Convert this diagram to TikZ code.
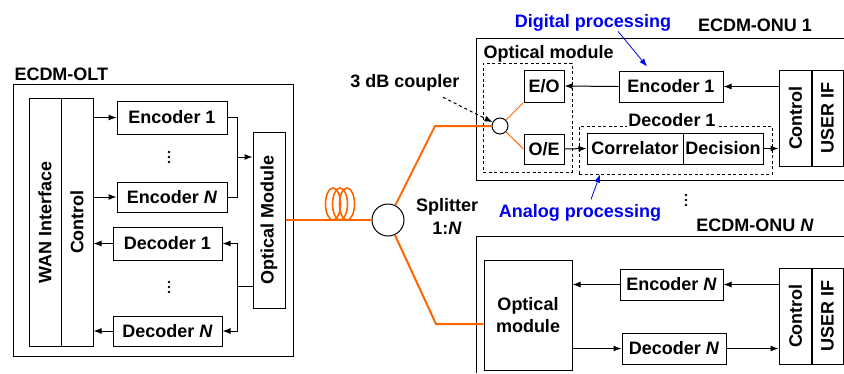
\documentclass[tikz,border=0pt]{standalone}
\usepackage{fontspec}
\setmainfont{Liberation Sans}
\usepackage{tikz}
\usetikzlibrary{arrows.meta, positioning, calc}
\definecolor{corLaranja}{RGB}{255, 102, 0}
\definecolor{corAzul}{RGB}{0, 0, 240}

\begin{document}
\begin{tikzpicture}[
    x=1pt, y=-1pt, line width=1pt,
    every node/.style={font=\bfseries\fontsize{18}{22}\selectfont},
    mod/.style={draw, inner sep=0pt, align=center},
    vmod/.style={mod, rotate=90},
    rotulo/.style={inner sep=0pt},
    tracej/.style={draw, dash pattern=on 3pt off 2.5pt, inner sep=0pt},
    seta/.style={-{Latex[length=8pt,width=6pt]}},
    fibra/.style={draw=corLaranja, line width=2pt}
]
\useasboundingbox (0,0) rectangle (844,373);

% OLT
\node[mod, minimum width=280pt, minimum height=272pt] (olt) at (153,220) {};
\node[rotulo, anchor=base west] (oltlbl) at (14,80) {ECDM-OLT};
\node[vmod, minimum width=248pt, minimum height=32pt] (wan) at (45,222) {WAN Interface};
\node[vmod, minimum width=248pt, minimum height=32pt] (ctrl) at (77,222) {Control};
\node[mod, minimum width=110pt, minimum height=33pt] (enc1) at (172,117.5) {Encoder 1};
\node[mod, minimum width=110pt, minimum height=30pt] (encN) at (172,197) {Encoder \textit{N}};
\node[mod, minimum width=109pt, minimum height=33pt] (dec1) at (167.5,243.5) {Decoder 1};
\node[mod, minimum width=109pt, minimum height=30pt] (decN) at (167.5,331) {Decoder \textit{N}};
\node[vmod, minimum width=176pt, minimum height=32pt] (om) at (269,220) {Optical Module};
\foreach \py in {-5,0,5} {
    \fill (169,157+\py) circle (1.4);
    \fill (169,287+\py) circle (1.4);
}
\coordinate (juncE) at (237,157);
\coordinate (juncD) at (237,286);

\draw[seta] (ctrl.south |- enc1) -- (enc1.west);
\draw[seta] (ctrl.south |- encN) -- (encN.west);
\draw[seta] (dec1.west) -- (ctrl.south |- dec1);
\draw[seta] (decN.west) -- (ctrl.south |- decN);
\draw (enc1.east) -| (juncE);
\draw (encN.east) -| (juncE);
\draw[seta] (juncE) -- (om.north |- juncE);
\draw (om.north |- juncD) -- (juncD);
\draw[seta] (juncD) |- (dec1.east);
\draw[seta] (juncD) |- (decN.east);

% fibra e splitter
\node[draw, circle, minimum size=32pt, inner sep=0pt] (spl) at (388,220) {};
\node[align=center, font=\bfseries\fontsize{18}{23}\selectfont] (spllbl) at (447,216) {Splitter\\1:\textit{N}};
\draw[fibra] (om.south) -- (spl);
\foreach \cx in {333,340,347}
    \draw[draw=corLaranja, line width=1.6pt] (\cx,204) ellipse (7.5 and 16);
\coordinate (dobraA) at (435,126);
\coordinate (dobraB) at (436,324);

% ONU 1
\draw (844,38) -| (476,180) -- (844,180);
\node[rotulo, anchor=base] (onu1lbl) at (755,31) {ECDM-ONU 1};
\node[rotulo, anchor=base west] (omlbl) at (483,58) {Optical module};
\node[tracej, minimum width=89pt, minimum height=109pt] (omd) at (527.5,117.5) {};
\node[mod, minimum width=40pt, minimum height=32pt] (eo) at (544,86) {E/O};
\node[mod, minimum width=40pt, minimum height=30pt] (oe) at (544,149) {O/E};
\node[draw, circle, minimum size=16pt, inner sep=0pt, fill=white] (cpl) at (500,126) {};
\draw[draw=corLaranja] (cpl) -- (eo.south west);
\draw[draw=corLaranja] (cpl) -- (oe.west);
\node[rotulo, anchor=base] (cplr) at (405,87) {3 dB coupler};
\draw[seta, dashed] ([shift={(38,6)}]cplr.south) -- (cpl);

\node[mod, minimum width=104pt, minimum height=31pt] (enc1u) at (671,86.5) {Encoder 1};
\node[vmod, minimum width=96pt, minimum height=33pt] (ctrlu) at (795.5,118) {Control};
\node[vmod, minimum width=96pt, minimum height=32pt] (uifu) at (827.5,118) {USER IF};
\node[tracej, minimum width=193pt, minimum height=48pt] (decbox) at (675.5,150) {};
\node[anchor=base, fill=white, inner sep=1.5pt] (declbl) at (672,126) {Decoder 1};
\node[mod, minimum width=96pt, minimum height=31pt] (corr) at (635,148.5) {Correlator};
\node[mod, minimum width=80pt, minimum height=31pt] (deci) at (723,148.5) {Decision};

\draw[seta] (ctrlu.north |- enc1u) -- (enc1u.east);
\draw[seta] (enc1u.west) -- (eo.east);
\draw[seta] (oe.east) -- (corr.west);
\draw[seta] (deci.east) -- (ctrlu.north |- deci);

\node[rotulo, anchor=base, text=corAzul] (dig) at (593,27) {Digital processing};
\draw[seta, draw=corAzul, line width=0.8pt] ([xshift=25pt]dig.south) -- ([xshift=-24pt,yshift=4pt]enc1u.north);
\node[rotulo, anchor=base, text=corAzul] (ana) at (580,217) {Analog processing};
\draw[seta, draw=corAzul, line width=0.8pt] ([xshift=11pt,yshift=4pt]ana.north) -- ([xshift=-75.5pt]decbox.south);
\foreach \py in {-5,0,5}
    \fill (686,200+\py) circle (1.4);

% ONU N
\draw (844,236) -| (476,373);
\node[rotulo, anchor=base] (onuNlbl) at (755,231) {ECDM-ONU \textit{N}};
\node[mod, minimum width=88pt, minimum height=110pt] (omN) at (528,315) {Optical\\module};
\node[mod, minimum width=103pt, minimum height=31pt] (encNu) at (671.5,284.5) {Encoder \textit{N}};
\node[mod, minimum width=104pt, minimum height=31pt] (decNu) at (674,348.5) {Decoder \textit{N}};
\node[vmod, minimum width=96pt, minimum height=33pt] (ctrlN) at (795.5,316) {Control};
\node[vmod, minimum width=96pt, minimum height=32pt] (uifN) at (827.5,316) {USER IF};

\draw[seta] (ctrlN.north |- encNu) -- (encNu.east);
\draw[seta] (encNu.west) -- (omN.east |- encNu);
\draw[seta] (omN.east |- decNu) -- (decNu.west);
\draw[seta] (decNu.east) -- (ctrlN.north |- decNu);

\draw[fibra] (spl) -- (dobraA) -- (cpl);
\draw[fibra] (spl) -- (dobraB) -- (omN.west |- dobraB);
\end{tikzpicture}
\end{document}
